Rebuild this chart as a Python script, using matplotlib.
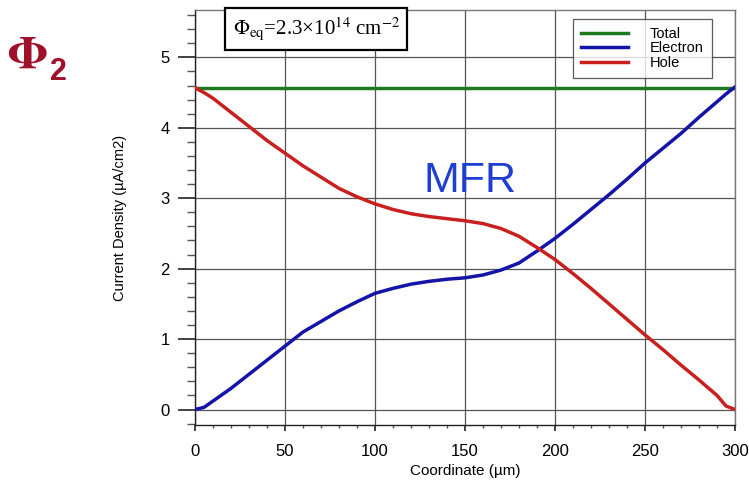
import matplotlib
matplotlib.use("Agg")
import matplotlib.pyplot as plt
from matplotlib.ticker import MultipleLocator

plt.rcParams['font.family'] = ['Liberation Sans', 'DejaVu Sans']
plt.rcParams['mathtext.fontset'] = 'stix'

# Coordinate across the sensor (um)
coord = [0, 5, 10, 20, 30, 40, 50, 60, 70, 80, 90, 100, 110, 120, 130, 140, 150,
         160, 170, 180, 190, 200, 210, 220, 230, 240, 250, 260, 270, 280, 290, 295, 300]

# Current densities (uA/cm2)
electron = [0.0, 0.03, 0.12, 0.30, 0.50, 0.70, 0.90, 1.10, 1.25, 1.40, 1.53, 1.65, 1.72,
            1.78, 1.82, 1.85, 1.87, 1.91, 1.98, 2.08, 2.25, 2.43, 2.63, 2.84, 3.05, 3.27,
            3.50, 3.71, 3.92, 4.15, 4.37, 4.48, 4.58]
hole = [4.57, 4.50, 4.42, 4.22, 4.02, 3.82, 3.64, 3.46, 3.30, 3.14, 3.02, 2.92, 2.84,
        2.78, 2.74, 2.71, 2.68, 2.64, 2.57, 2.46, 2.30, 2.13, 1.93, 1.72, 1.50, 1.28,
        1.06, 0.85, 0.63, 0.42, 0.20, 0.05, 0.0]
total = [4.57] * len(coord)

x_ticks = [0, 50, 100, 150, 200, 250, 300]
y_ticks = [0, 1, 2, 3, 4, 5]

fig = plt.figure(figsize=(7.49, 4.86), dpi=100)
ax = fig.add_axes([0.2603, 0.1255, 0.7210, 0.8535])

ax.plot(coord, total, color='#1f7a1f', lw=2.5, label='Total', zorder=3)
ax.plot(coord, electron, color='#1414a8', lw=2.5, label='Electron', zorder=4)
ax.plot(coord, hole, color='#c8201e', lw=2.5, label='Hole', zorder=4)

ax.set_xlim(0, 300)
ax.set_ylim(-0.22, 5.67)
ax.set_xticks(x_ticks)
ax.set_yticks(y_ticks)
ax.xaxis.set_minor_locator(MultipleLocator(10))
ax.yaxis.set_minor_locator(MultipleLocator(0.2))
ax.tick_params(axis='y', which='major', direction='out', length=12, width=1.2,
               labelsize=12, color='#222222', pad=6)
ax.tick_params(axis='y', which='minor', direction='out', length=5.5, width=1.0,
               color='#555555')
ax.tick_params(axis='x', which='major', direction='out', length=4, width=1.2,
               labelsize=12, color='#222222', pad=10)
ax.tick_params(axis='x', which='minor', direction='out', length=2.5, width=1.0,
               color='#555555')
ax.grid(True, which='major', color='#555555', lw=0.9)

for s in ax.spines.values():
    s.set_color('#777777')
    s.set_linewidth(1.0)
ax.spines['left'].set_color('#222222')
ax.spines['bottom'].set_color('#222222')

ax.set_xlabel('Coordinate (µm)', fontsize=11, labelpad=3)
ax.set_ylabel('Current Density (µA/cm2)', fontsize=10.5, labelpad=24)

leg = ax.legend(loc='upper right', bbox_to_anchor=(0.965, 0.99), fontsize=10.5,
                frameon=True, fancybox=False, edgecolor='#333333',
                handlelength=3.2, handletextpad=1.5, labelspacing=0.05,
                borderpad=0.55, borderaxespad=0.3)
leg.get_frame().set_linewidth(0.9)

ax.text(0.07, 0.955, r'$\Phi_{\rm eq}$=2.3×10$^{14}$ cm$^{-2}$',
        transform=ax.transAxes, fontsize=15, ha='left', va='center',
        family='Liberation Serif',
        bbox=dict(boxstyle='square,pad=0.35', facecolor='white',
                  edgecolor='black', lw=1.6), zorder=5)

ax.text(153, 3.25, 'MFR', color='#1f3fd0', fontsize=31, ha='center', va='center',
        zorder=6)

fig.text(0.010, 0.885, r'$\mathbf{\Phi}$', color='#a0102a', fontsize=34,
         ha='left', va='center')
fig.text(0.067, 0.852, '2', color='#a0102a', fontsize=22, fontweight='bold',
         ha='left', va='center')

fig.savefig('out.png', dpi=100)
